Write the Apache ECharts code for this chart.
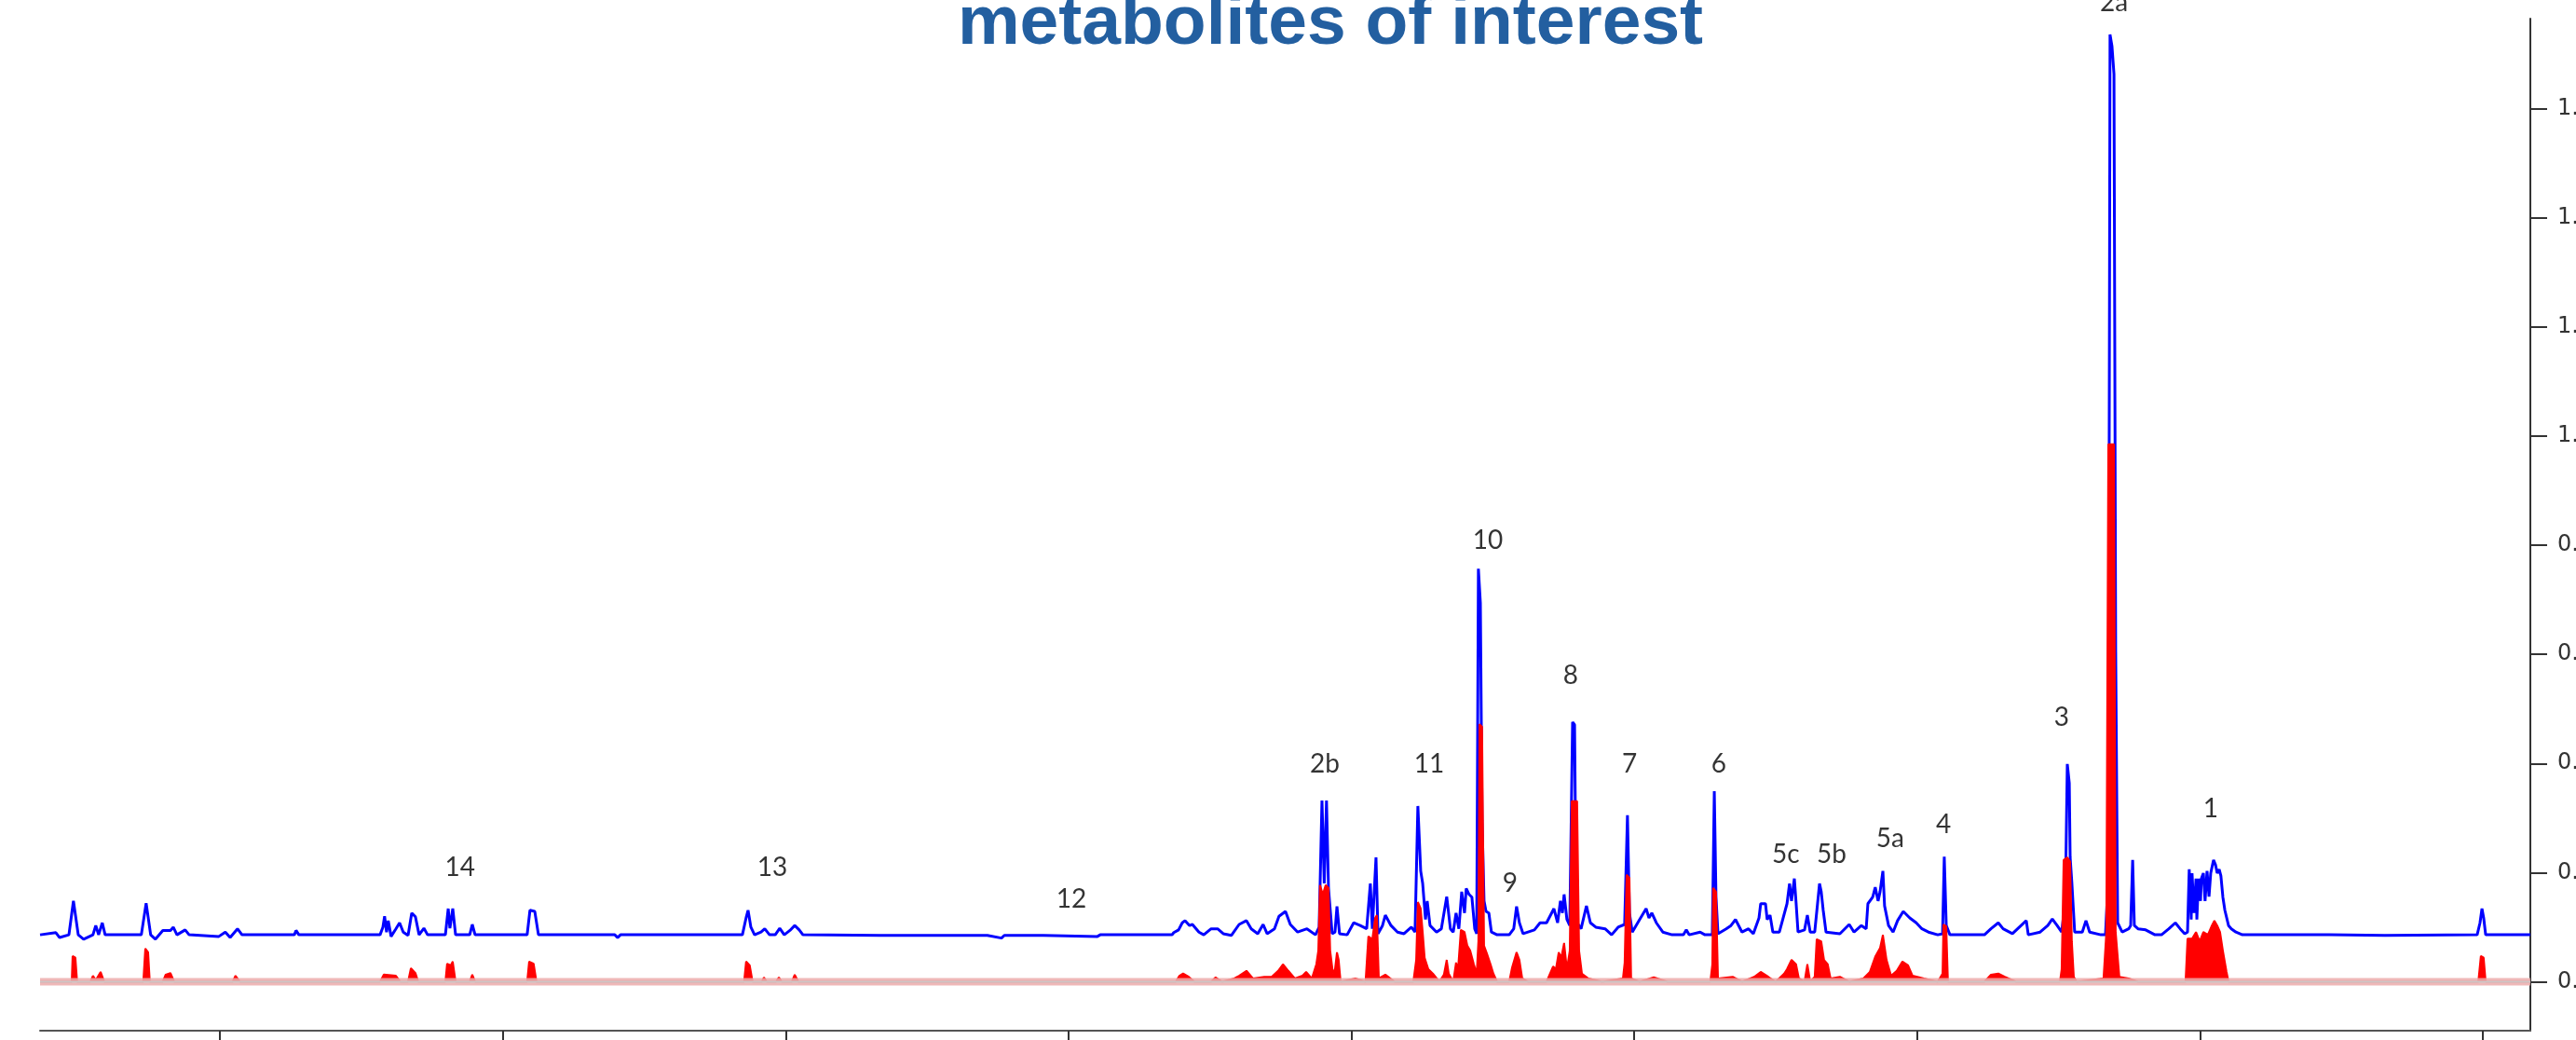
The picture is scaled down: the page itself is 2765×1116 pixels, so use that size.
<!DOCTYPE html>
<html>
<head>
<meta charset="utf-8">
<script src="https://cdn.jsdelivr.net/npm/echarts@6/dist/echarts.min.js"></script>
<style>
html,body{margin:0;padding:0;background:#fff;}
#chart{width:2765px;height:1116px;}
</style>
</head>
<body>
<div id="chart"></div>
<script>
// ---------- data ----------
const chartTitle = 'metabolites of interest';
const xTicks = [0, 1, 2, 3, 4, 5, 6, 7, 8];            // ppm
const yTicks = [0, 0.2, 0.4, 0.6, 0.8, 1.0, 1.2, 1.4, 1.6];

const peakLabels   = ['14','13','12','2b','11','10','9','8','7','6','5c','5b','5a','4','3','2a','1'];
const peakLabelPpm = [7.151,6.047,4.990,4.094,3.725,3.518,3.439,3.225,3.017,2.701,2.464,2.302,2.095,1.907,1.489,1.304,0.962];
const peakLabelY   = [0.209,0.209,0.151,0.399,0.399,0.809,0.180,0.561,0.399,0.399,0.233,0.233,0.262,0.288,0.484,1.794,0.317];

// blue spectrum (offset trace)
const bluePpm = [8.636,8.580,8.567,8.534,8.518,8.501,8.482,8.449,8.439,8.429,8.416,8.406,8.278,8.261,8.245,8.228,8.202,8.175,8.165,8.152,8.123,8.109,8.004,7.981,7.964,7.938,7.922,7.737,7.731,7.721,7.434,7.424,7.418,7.411,7.405,7.395,7.378,7.365,7.352,7.335,7.322,7.309,7.296,7.279,7.266,7.203,7.193,7.187,7.177,7.167,7.117,7.108,7.098,6.914,6.904,6.887,6.874,6.604,6.594,6.584,6.153,6.140,6.133,6.123,6.110,6.087,6.074,6.057,6.037,6.021,6.005,5.985,5.968,5.952,5.939,5.665,5.484,5.287,5.237,5.227,5.089,4.898,4.888,4.634,4.628,4.611,4.598,4.588,4.572,4.562,4.539,4.522,4.496,4.473,4.453,4.424,4.397,4.371,4.354,4.331,4.312,4.298,4.272,4.256,4.233,4.216,4.190,4.157,4.127,4.114,4.104,4.096,4.088,4.081,4.068,4.058,4.051,4.042,4.015,3.992,3.969,3.946,3.933,3.926,3.913,3.906,3.890,3.880,3.860,3.837,3.814,3.788,3.775,3.765,3.755,3.748,3.738,3.732,3.722,3.699,3.682,3.663,3.650,3.640,3.630,3.620,3.610,3.600,3.594,3.584,3.574,3.564,3.557,3.551,3.544,3.538,3.531,3.524,3.514,3.505,3.485,3.442,3.426,3.416,3.406,3.393,3.353,3.333,3.310,3.284,3.271,3.261,3.254,3.248,3.238,3.228,3.218,3.211,3.208,3.202,3.188,3.169,3.155,3.136,3.103,3.080,3.057,3.034,3.024,3.017,3.007,2.981,2.958,2.948,2.938,2.922,2.899,2.866,2.826,2.816,2.806,2.767,2.750,2.724,2.717,2.711,2.704,2.675,2.658,2.642,2.619,2.596,2.579,2.559,2.553,2.536,2.530,2.520,2.510,2.487,2.460,2.451,2.444,2.434,2.428,2.421,2.398,2.388,2.378,2.362,2.352,2.345,2.339,2.332,2.322,2.273,2.240,2.223,2.197,2.180,2.174,2.157,2.148,2.138,2.131,2.121,2.115,2.101,2.085,2.069,2.049,2.026,2.003,1.983,1.960,1.927,1.910,1.904,1.897,1.884,1.762,1.739,1.713,1.696,1.663,1.614,1.607,1.565,1.538,1.522,1.505,1.489,1.476,1.469,1.462,1.459,1.453,1.443,1.416,1.403,1.390,1.350,1.334,1.324,1.318,1.311,1.304,1.298,1.291,1.275,1.252,1.245,1.238,1.232,1.219,1.192,1.159,1.136,1.110,1.087,1.070,1.054,1.044,1.038,1.031,1.028,1.021,1.014,1.011,1.005,0.998,0.995,0.988,0.982,0.975,0.968,0.962,0.952,0.945,0.939,0.932,0.926,0.919,0.912,0.899,0.889,0.873,0.850,0.543,0.346,0.020,0.010,0.003,-0.003,-0.010,-0.168];
const blueVal = [0.086,0.090,0.081,0.086,0.148,0.086,0.078,0.086,0.103,0.086,0.108,0.086,0.086,0.144,0.086,0.078,0.094,0.094,0.100,0.086,0.095,0.086,0.083,0.091,0.081,0.097,0.086,0.086,0.094,0.086,0.086,0.100,0.120,0.091,0.112,0.083,0.097,0.108,0.091,0.085,0.126,0.119,0.086,0.098,0.086,0.086,0.134,0.098,0.134,0.086,0.086,0.105,0.086,0.086,0.131,0.129,0.086,0.086,0.081,0.086,0.086,0.117,0.131,0.100,0.086,0.091,0.097,0.086,0.086,0.098,0.086,0.094,0.103,0.095,0.086,0.085,0.085,0.085,0.080,0.085,0.085,0.083,0.086,0.086,0.090,0.095,0.108,0.112,0.103,0.105,0.091,0.086,0.097,0.097,0.088,0.085,0.105,0.112,0.097,0.088,0.105,0.088,0.097,0.120,0.129,0.105,0.091,0.097,0.086,0.100,0.332,0.180,0.332,0.172,0.088,0.091,0.138,0.088,0.086,0.108,0.103,0.097,0.180,0.097,0.228,0.088,0.103,0.122,0.103,0.091,0.088,0.100,0.091,0.322,0.203,0.180,0.114,0.148,0.103,0.091,0.097,0.156,0.097,0.091,0.126,0.097,0.165,0.126,0.171,0.160,0.155,0.097,0.088,0.757,0.694,0.296,0.148,0.129,0.126,0.091,0.086,0.086,0.097,0.138,0.108,0.088,0.095,0.108,0.108,0.134,0.108,0.148,0.126,0.160,0.114,0.103,0.476,0.471,0.296,0.108,0.097,0.139,0.108,0.100,0.097,0.086,0.100,0.105,0.305,0.126,0.091,0.114,0.134,0.117,0.126,0.108,0.091,0.086,0.086,0.095,0.086,0.091,0.086,0.086,0.349,0.155,0.088,0.097,0.103,0.114,0.091,0.097,0.088,0.117,0.143,0.143,0.114,0.122,0.091,0.091,0.143,0.180,0.148,0.189,0.146,0.091,0.095,0.122,0.091,0.091,0.143,0.180,0.165,0.131,0.091,0.088,0.105,0.091,0.103,0.097,0.143,0.155,0.173,0.148,0.165,0.203,0.139,0.103,0.091,0.112,0.129,0.117,0.108,0.097,0.091,0.086,0.088,0.229,0.103,0.086,0.086,0.097,0.108,0.097,0.088,0.112,0.086,0.091,0.103,0.115,0.103,0.091,0.148,0.399,0.364,0.228,0.182,0.091,0.091,0.112,0.091,0.086,0.086,0.194,1.736,1.714,1.663,0.604,0.108,0.091,0.097,0.103,0.223,0.103,0.097,0.095,0.086,0.086,0.097,0.108,0.097,0.088,0.091,0.206,0.114,0.199,0.126,0.189,0.114,0.189,0.148,0.189,0.199,0.148,0.203,0.156,0.199,0.223,0.214,0.199,0.206,0.194,0.155,0.131,0.103,0.097,0.091,0.086,0.086,0.085,0.086,0.108,0.134,0.117,0.086,0.086];

// red spectrum (filled trace)
const redPpm = [8.636,8.524,8.521,8.511,8.505,8.458,8.449,8.439,8.422,8.409,8.271,8.264,8.254,8.248,8.202,8.192,8.175,8.162,7.955,7.945,7.929,7.434,7.421,7.378,7.362,7.335,7.325,7.309,7.299,7.203,7.197,7.184,7.177,7.167,7.117,7.108,7.098,6.914,6.907,6.891,6.881,6.147,6.140,6.127,6.117,6.084,6.077,6.067,6.034,6.024,6.014,5.978,5.968,5.955,4.621,4.608,4.595,4.575,4.555,4.496,4.480,4.457,4.414,4.397,4.371,4.348,4.308,4.282,4.259,4.242,4.223,4.200,4.173,4.160,4.140,4.124,4.117,4.111,4.101,4.091,4.081,4.075,4.065,4.058,4.051,4.045,4.038,3.986,3.950,3.940,3.926,3.916,3.910,3.903,3.880,3.847,3.781,3.771,3.765,3.755,3.748,3.741,3.728,3.712,3.689,3.673,3.663,3.656,3.640,3.630,3.623,3.613,3.600,3.590,3.580,3.567,3.557,3.551,3.547,3.538,3.531,3.521,3.508,3.498,3.485,3.442,3.432,3.416,3.406,3.396,3.376,3.310,3.287,3.277,3.267,3.258,3.248,3.238,3.228,3.221,3.202,3.195,3.185,3.162,3.113,3.040,3.034,3.027,3.017,3.011,2.981,2.931,2.882,2.731,2.724,2.721,2.711,2.704,2.652,2.619,2.576,2.553,2.526,2.500,2.470,2.460,2.444,2.428,2.418,2.398,2.388,2.378,2.362,2.355,2.339,2.329,2.316,2.306,2.273,2.240,2.190,2.167,2.148,2.131,2.121,2.108,2.092,2.072,2.052,2.032,2.016,1.976,1.927,1.910,1.907,1.897,1.891,1.762,1.739,1.713,1.690,1.650,1.495,1.489,1.482,1.469,1.459,1.453,1.446,1.436,1.341,1.331,1.324,1.304,1.298,1.285,1.252,1.219,1.051,1.044,1.028,1.014,1.001,0.988,0.972,0.958,0.949,0.939,0.929,0.919,0.906,0.899,0.016,0.007,-0.003,-0.010,-0.168];
const redVal = [0,0,0.047,0.044,0,0,0.011,0.003,0.018,0,0,0.061,0.054,0,0,0.013,0.016,0,0,0.011,0,0,0.013,0.011,0,0,0.025,0.016,0,0,0.033,0.030,0.037,0,0,0.013,0,0,0.037,0.033,0,0,0.037,0.030,0,0,0.008,0,0,0.008,0,0,0.013,0,0,0.011,0.015,0.009,0,0,0.008,0,0.006,0.011,0.020,0.006,0.009,0.009,0.020,0.032,0.020,0.006,0.011,0.018,0.006,0.032,0.057,0.177,0.160,0.177,0.172,0.057,0.015,0.023,0.054,0.040,0,0.006,0,0.083,0.078,0.117,0.122,0.006,0.013,0,0,0.040,0.146,0.134,0.091,0.044,0.023,0.015,0,0.013,0.040,0.015,0,0.035,0.023,0.095,0.091,0.066,0.057,0.032,0.015,0.074,0.472,0.467,0.066,0.052,0.032,0.015,0,0,0.026,0.054,0.040,0.006,0,0,0.028,0.023,0.054,0.044,0.071,0.023,0.057,0.331,0.331,0.057,0.015,0.006,0,0.006,0.035,0.196,0.190,0.006,0,0.008,0,0,0.032,0.172,0.165,0.006,0.009,0,0.009,0.018,0.009,0,0.015,0.023,0.040,0.032,0.006,0,0.032,0,0.009,0.078,0.074,0.040,0.032,0.006,0.009,0,0.006,0.018,0.046,0.062,0.086,0.040,0.011,0.020,0.037,0.030,0.011,0.006,0,0.015,0.105,0.102,0,0,0.013,0.015,0.009,0,0,0.023,0.223,0.228,0.220,0.074,0.009,0,0.006,0.091,0.985,0.985,0.091,0.009,0.006,0,0,0.079,0.079,0.091,0.074,0.091,0.086,0.103,0.112,0.103,0.091,0.057,0.018,0,0,0.047,0.044,0,0];

// ---------- chart ----------
const zip = (a, b) => a.map((v, i) => [v, b[i]]);
const X_MIN = -0.168, X_MAX = 8.636;
const chart = echarts.init(document.getElementById('chart'), null, {renderer: 'canvas'});
chart.setOption({
  animation: false,
  backgroundColor: '#ffffff',
  title: {
    text: chartTitle,
    left: 1428,
    top: -11,
    padding: 0,
    textAlign: 'center',
    textStyle: {fontFamily: 'Liberation Sans', fontWeight: 'bold', fontSize: 75, color: '#235FA0'}
  },
  grid: {left: 43, right: 49, top: 20, bottom: 10, containLabel: false, outerBoundsMode: 'none'},
  xAxis: {
    type: 'value', inverse: true, min: X_MIN, max: X_MAX,
    axisLine: {show: true, onZero: false, lineStyle: {color: '#555555', width: 2}},
    axisTick: {show: true, inside: false, length: 12, customValues: xTicks, lineStyle: {color: '#333333', width: 2}},
    axisLabel: {show: false, customValues: xTicks},
    splitLine: {show: false}
  },
  yAxis: {
    type: 'value', position: 'right', min: -0.0897, max: 1.765,
    axisLine: {show: true, onZero: false, lineStyle: {color: '#333333', width: 2}},
    axisTick: {show: true, inside: false, length: 18, customValues: yTicks, lineStyle: {color: '#333333', width: 2}},
    axisLabel: {show: true, customValues: yTicks, margin: 29, formatter: v => v.toFixed(1),
      fontFamily: 'DejaVu Sans', fontSize: 24, color: '#333333'},
    splitLine: {show: false}
  },
  series: [
    {
      type: 'line', name: 'blue', data: zip(bluePpm, blueVal), showSymbol: false, silent: true, z: 2,
      lineStyle: {color: '#0000FF', width: 3}
    },
    {
      type: 'line', name: 'red', data: zip(redPpm, redVal), showSymbol: false, silent: true, z: 3,
      lineStyle: {color: '#FF0000', width: 2},
      areaStyle: {color: '#FF0000', opacity: 1, origin: 0}
    },
    {
      type: 'line', name: 'baseline', data: [[X_MAX, 0], [X_MIN, 0]], showSymbol: false, silent: true, z: 4,
      lineStyle: {color: 'rgba(236,172,172,0.85)', width: 8}
    },
    {
      type: 'line', name: 'baselineCenter', data: [[X_MAX, 0], [X_MIN, 0]], showSymbol: false, silent: true, z: 5,
      lineStyle: {color: 'rgba(205,198,198,1)', width: 2}
    },
    {
      type: 'scatter', name: 'labels', clip: false, silent: true, z: 6,
      symbolSize: 1, itemStyle: {color: 'rgba(0,0,0,0)'},
      data: peakLabels.map((t, i) => [peakLabelPpm[i], peakLabelY[i], t]),
      label: {show: true, position: 'inside', formatter: p => p.data[2],
        fontFamily: 'Lato', fontSize: 28, color: '#000000'},
      labelLayout: {hideOverlap: false}
    }
  ]
});
</script>
</body>
</html>
